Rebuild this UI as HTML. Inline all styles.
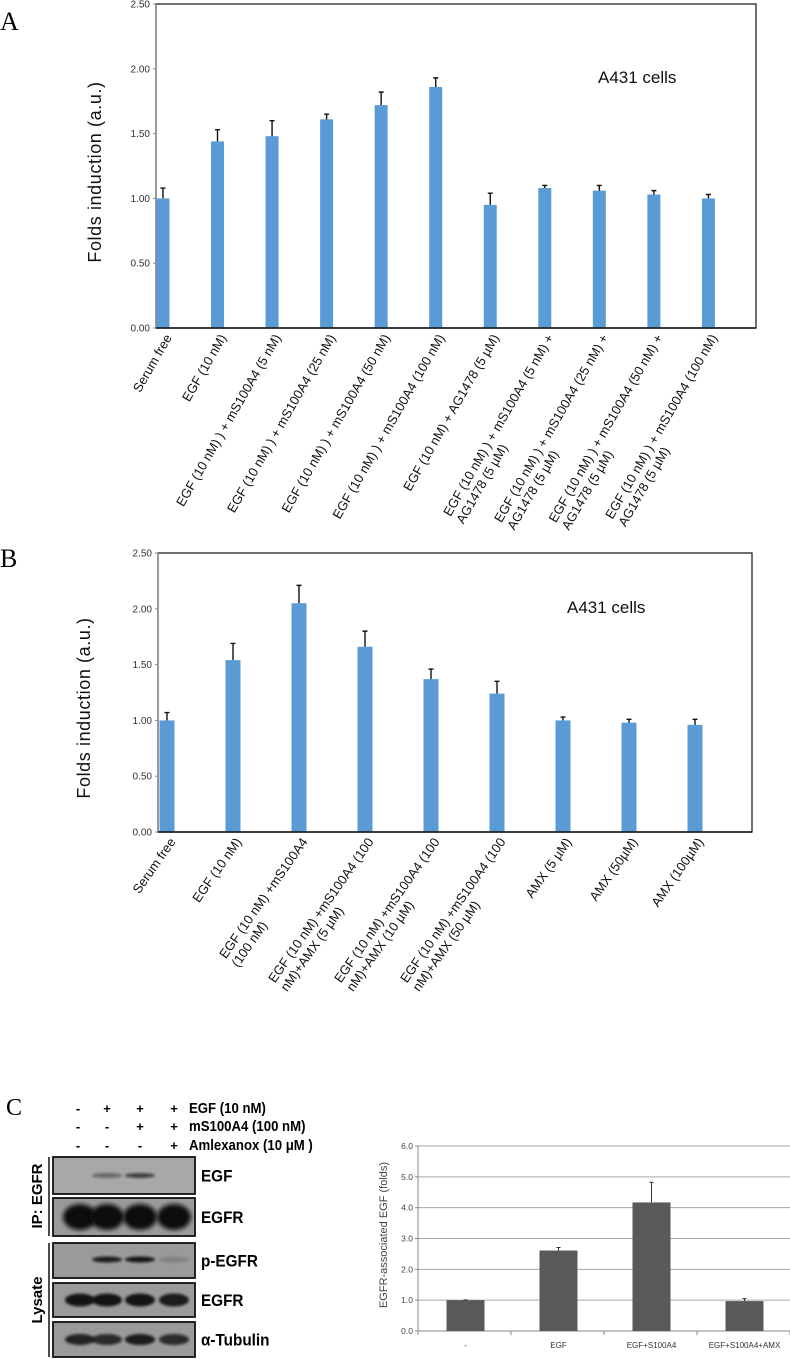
<!DOCTYPE html>
<html><head><meta charset="utf-8"><style>
html,body{margin:0;padding:0;background:#fff;}
svg{display:block;}
text{font-family:"Liberation Sans",sans-serif;}
</style></head><body>
<svg id="fig" width="790" height="1359" viewBox="0 0 790 1359">
<defs>
<filter id="blur1" x="-30%" y="-80%" width="160%" height="260%"><feGaussianBlur stdDeviation="2.2"/></filter>
<filter id="blur2" x="-30%" y="-80%" width="160%" height="260%"><feGaussianBlur stdDeviation="1.3"/></filter>
</defs>
<g id="panelA"></g>
<g id="panelB"></g>
<g id="panelCblot"></g>
<g id="panelCchart"></g>
</svg>
<script>
// ---------- Panel A data ----------
const catsA = [["Serum free"],["EGF (10 nM)"],["EGF (10 nM) ) + mS100A4 (5 nM)"],["EGF (10 nM) ) + mS100A4 (25 nM)"],["EGF (10 nM) ) + mS100A4 (50 nM)"],["EGF (10 nM) ) + mS100A4 (100 nM)"],["EGF (10 nM) + AG1478 (5 µM)"],["EGF (10 nM) ) + mS100A4 (5 nM) +","AG1478 (5 µM)"],["EGF (10 nM) ) + mS100A4 (25 nM) +","AG1478 (5 µM)"],["EGF (10 nM) ) + mS100A4 (50 nM) +","AG1478 (5 µM)"],["EGF (10 nM) ) + mS100A4 (100 nM)","AG1478 (5 µM)"]];
const valsA = [1.00,1.44,1.48,1.61,1.72,1.86,0.95,1.08,1.06,1.03,1.00];
const errA = [0.08,0.09,0.12,0.04,0.10,0.07,0.09,0.02,0.04,0.03,0.03];
const ticksA = ["0.00","0.50","1.00","1.50","2.00","2.50"];
// ---------- Panel B data ----------
const catsB = [["Serum free"],["EGF (10 nM)"],["EGF (10 nM) +mS100A4","(100 nM)"],["EGF (10 nM) +mS100A4 (100","nM)+AMX (5 µM)"],["EGF (10 nM) +mS100A4 (100","nM)+AMX (10 µM)"],["EGF (10 nM) +mS100A4 (100","nM)+AMX (50 µM)"],["AMX (5 µM)"],["AMX (50µM)"],["AMX (100µM)"]];
const valsB = [1.00,1.54,2.05,1.66,1.37,1.24,1.00,0.98,0.96];
const errB = [0.07,0.15,0.16,0.14,0.09,0.11,0.03,0.03,0.05];
const ticksB = ["0.00","0.50","1.00","1.50","2.00","2.50"];
// ---------- Panel C data ----------
const catsC = ["-","EGF","EGF+S100A4","EGF+S100A4+AMX"];
const valsC = [1.00,2.61,4.17,0.97];
const errC = [0.01,0.10,0.65,0.08];
const ticksC = ["0.0","1.0","2.0","3.0","4.0","5.0","6.0"];

const NS="http://www.w3.org/2000/svg";
function mk(parent,tag,attrs,txt){const e=document.createElementNS(NS,tag);for(const k in attrs)e.setAttribute(k,attrs[k]);if(txt!==undefined)e.textContent=txt;parent.appendChild(e);return e;}

function barPanel(g, o){
  const {cats,vals,errs,ticks,L,R,T,B,max,bw,angle,letterY,titleX,titleCY,annX,annY,prefix} = o;
  const y=v=>B-v/max*(B-T);
  const step=(R-L)/cats.length;
  const x=i=>L+step*(i+0.5)-o.shift;
  const letter=mk(g,'text',{x:0,y:letterY,'font-size':26,style:'font-family:"Liberation Serif",serif'},o.letter);
  
  
  const fr=mk(g,'rect',{x:L,y:T,width:R-L,height:B-T,fill:'none',stroke:'#222','stroke-width':1.3});
  
  
  mk(g,'line',{x1:L,y1:T,x2:L,y2:B,stroke:'#888','stroke-width':1.3});
  ticks.forEach(t=>{
    const v=parseFloat(t);
    const tl=mk(g,'text',{x:L-6,y:y(v)+3.5,'font-size':10,'text-anchor':'end',fill:'#333'},t);
    
    
    mk(g,'line',{x1:L-3,y1:y(v),x2:L,y2:y(v),stroke:'#888'});
  });
  const yt=mk(g,'text',{x:titleX,y:titleCY,'font-size':18,'text-anchor':'middle',transform:`rotate(-90 ${titleX} ${titleCY})`,fill:'#111','letter-spacing':'0.6'},'Folds induction (a.u.)');
  
  
  const an=mk(g,'text',{x:annX,y:annY,'font-size':17,fill:'#111'},'A431 cells');
  
  
  vals.forEach((v,i)=>{
    const cx=x(i);
    const r=mk(g,'rect',{x:cx-bw/2,y:y(v),width:bw,height:B-y(v),fill:'#5b9bd5'});
    
    
    const ye=y(v+errs[i]);
    const e=mk(g,'path',{d:`M${cx} ${y(v)}V${ye}M${cx-2.5} ${ye}H${cx+2.5}`,stroke:'#111','stroke-width':1.4,fill:'none'});
    
    
  });
  mk(g,'line',{x1:L,y1:B,x2:R,y2:B,stroke:'#111','stroke-width':1.5});
  cats.forEach((c,i)=>{
    const ax=x(i)+5, ay=B+7;
    const lg=mk(g,'g',{transform:`translate(${ax} ${ay}) rotate(${angle})`});
    
    
    const t1=mk(lg,'text',{x:0,y:5,'font-size':13,'text-anchor':'end',fill:'#111'},c[0]);
    if(c[1]){
      const w=t1.getComputedTextLength();
      mk(lg,'text',{x:-w,y:20,'font-size':13,'text-anchor':'start',fill:'#111'},c[1]);
    }
  });
}

barPanel(document.getElementById('panelA'),{cats:catsA,vals:valsA,errs:errA,ticks:ticksA,L:156,R:756,T:4,B:328,max:2.5,bw:13,angle:-60,letterY:30,titleX:101,titleCY:172,annX:598,annY:83,letter:'A',prefix:'a',shift:20.3});
barPanel(document.getElementById('panelB'),{cats:catsB,vals:valsB,errs:errB,ticks:ticksB,L:158,R:752,T:553,B:832,max:2.5,bw:15,angle:-55,letterY:567,titleX:90,titleCY:708,annX:567,annY:613,letter:'B',prefix:'b',shift:24});

// ---------- Panel C blot ----------
(function(){
  const g=document.getElementById('panelCblot');
  const c=mk(g,'text',{x:6,y:1115,'font-size':24,style:'font-family:"Liberation Serif",serif'},'C');
  
  
  const lanes=[78,107,140,174];
  const rows=[['-','+','+','+','EGF (10 nM)'],['-','-','+','+','mS100A4 (100 nM)'],['-','-','-','+','Amlexanox (10 μM )']];
  const ry=[1113,1131,1150];
  rows.forEach((r,j)=>{
    for(let k=0;k<4;k++){const s=mk(g,'text',{x:lanes[k],y:ry[j],'font-size':13,'font-weight':'bold','text-anchor':'middle'},r[k]);
      
      }
    const t=mk(g,'text',{x:189,y:ry[j],'font-size':15,'font-weight':'bold',transform:`translate(${189*0.12} 0) scale(0.88 1)`},r[4]);
    
    
  });
  const boxes=[[1157,1194,'EGF'],[1198,1236,'EGFR'],[1243,1278,'p-EGFR'],[1283,1317,'EGFR'],[1322,1357,'α-Tubulin']];
  const bands=[[0,0.45,0.7,0],[1,1,1,1],[0,0.9,0.95,0.15],[0.95,0.95,0.95,0.9],[0.85,0.8,0.9,0.8]];
  const bh=[5,22,6,13,11];
  boxes.forEach((b,j)=>{
    const r=mk(g,'rect',{x:53,y:b[0],width:142,height:b[1]-b[0],fill:j==0?'#a8a8a8':'#9a9a9a',stroke:'#111','stroke-width':1.8});
    
    
    const cy=(b[0]+b[1])/2 + (j==2?-1:0);
    bands[j].forEach((a,k)=>{
      if(a>0){mk(g,'ellipse',{cx:lanes[k]+(k==0?2:0),cy:cy,rx:j==1?17:15,ry:bh[j]/2+(j==1?2:0),fill:'#111','fill-opacity':a,filter:j==1?'url(#blur1)':'url(#blur2)'});}
    });
    const l=mk(g,'text',{x:201,y:(b[0]+b[1])/2+6,'font-size':17,'font-weight':'bold',transform:`translate(${201*0.1} 0) scale(0.9 1)`},b[2]);
    
    
  });
  mk(g,'line',{x1:49,y1:1157,x2:49,y2:1236,stroke:'#111','stroke-width':1.5});
  mk(g,'line',{x1:49,y1:1243,x2:49,y2:1357,stroke:'#111','stroke-width':1.5});
  const ip=mk(g,'text',{x:42,y:1196,'font-size':15,'font-weight':'bold','text-anchor':'middle',transform:'rotate(-90 42 1196)'},'IP: EGFR');
  
  
  const ly=mk(g,'text',{x:42,y:1300,'font-size':15,'font-weight':'bold','text-anchor':'middle',transform:'rotate(-90 42 1300)'},'Lysate');
  
  
})();

// ---------- Panel C chart ----------
(function(){
  const g=document.getElementById('panelCchart');
  const L=418,R=790,T=1146,B=1331,max=6;
  const y=v=>B-v/max*(B-T);
  const step=(R-L)/catsC.length;
  const x=i=>L+step*(i+0.5)+1;
  ticksC.forEach(t=>{
    const v=parseFloat(t);
    if(v>0){const gl=mk(g,'line',{x1:L,y1:y(v),x2:R,y2:y(v),stroke:'#a6a6a6','stroke-width':1});
      
      }
    mk(g,'line',{x1:L-3,y1:y(v),x2:L,y2:y(v),stroke:'#888'});
    const tl=mk(g,'text',{x:L-5,y:y(v)+3,'font-size':8.5,'text-anchor':'end',fill:'#444'},t);
    
    
  });
  mk(g,'line',{x1:L,y1:T,x2:L,y2:B,stroke:'#888'});
  mk(g,'line',{x1:L,y1:B,x2:R,y2:B,stroke:'#888'});
  for(let k=0;k<=catsC.length;k++){mk(g,'line',{x1:L+step*k,y1:B,x2:L+step*k,y2:B+4,stroke:'#888'});}
  valsC.forEach((v,i)=>{
    const cx=x(i);
    const r=mk(g,'rect',{x:cx-19,y:y(v),width:38,height:B-y(v),fill:'#595959'});
    
    
    const ye=y(v+errC[i]);
    const e=mk(g,'path',{d:`M${cx} ${y(v)}V${ye}M${cx-2} ${ye}H${cx+2}`,stroke:'#333','stroke-width':1,fill:'none'});
    
    
    const l=mk(g,'text',{x:cx,y:1348,'font-size':8,'text-anchor':'middle',fill:'#333'},catsC[i]);
    
    
  });
  const yt=mk(g,'text',{x:387,y:1235,'font-size':11,'text-anchor':'middle',fill:'#444',transform:'rotate(-90 387 1235)'},'EGFR-associated EGF  (folds)');
  
  
})();
</script>
</body></html>
